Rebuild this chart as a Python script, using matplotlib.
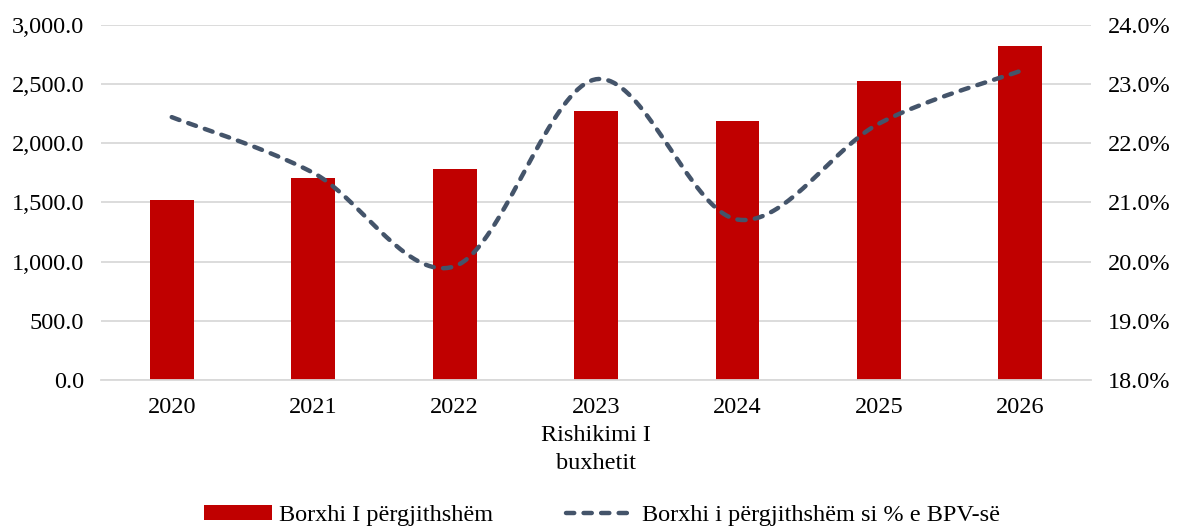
import numpy as np
import matplotlib
matplotlib.use("Agg")
import matplotlib.pyplot as plt
from matplotlib.ticker import FuncFormatter, MultipleLocator

years = ["2020", "2021", "2022", "2023\nRishikimi I\nbuxhetit", "2024", "2025", "2026"]
debt = [1516, 1710, 1778, 2271, 2184, 2527, 2820]
debt_pct = [22.44, 21.50, 19.92, 23.08, 20.71, 22.33, 23.22]
bar_label = "Borxhi I përgjithshëm"
line_label = "Borxhi i përgjithshëm si % e BPV-së"

plt.rcParams['font.family'] = ['Liberation Serif', 'DejaVu Serif']
FS = 17.5

fig = plt.figure(figsize=(11.8, 5.27), dpi=100)
ax = fig.add_axes([0.0856, 0.279, 0.839, 0.674])
ax2 = ax.twinx()

x = np.arange(len(years))
ax.bar(x, debt, width=0.31, color="#C00000", zorder=2, label=bar_label)
ax.set_ylim(0, 3000)
ax.yaxis.set_major_locator(MultipleLocator(500))
ax.yaxis.set_major_formatter(FuncFormatter(lambda v, p: f"{v:,.1f}"))
ax.set_xlim(-0.5, len(years) - 0.5)
ax.set_xticks(x)
ax.set_xticklabels(years, fontsize=FS, linespacing=1.45)
ax.grid(axis='y', color="#D9D9D9", linewidth=1.3, zorder=0)
ax.set_axisbelow(True)
for s in ['top', 'right', 'left']:
    ax.spines[s].set_visible(False)
ax.spines['bottom'].set_color("#D9D9D9")
ax.spines['bottom'].set_linewidth(1.3)
ax.tick_params(axis='both', length=0, labelsize=FS, colors="black")
ax.tick_params(axis='y', pad=12)
ax.tick_params(axis='x', pad=12)

# Smooth (Catmull-Rom) curve through the data points, like Excel's smoothed line
def smooth(xs, ys, n=40):
    xs = np.asarray(xs, float); ys = np.asarray(ys, float)
    P = np.column_stack([xs, ys])
    pts = []
    for i in range(len(P) - 1):
        p0 = P[i - 1] if i > 0 else P[i]
        p1, p2 = P[i], P[i + 1]
        p3 = P[i + 2] if i + 2 < len(P) else P[i + 1]
        c1 = p1 + (p2 - p0) / 6.0
        c2 = p2 - (p3 - p1) / 6.0
        t = np.linspace(0, 1, n)[:, None]
        seg = ((1 - t) ** 3) * p1 + 3 * ((1 - t) ** 2) * t * c1 + 3 * (1 - t) * t ** 2 * c2 + t ** 3 * p2
        pts.append(seg if i == 0 else seg[1:])
    pts = np.vstack(pts)
    return pts[:, 0], pts[:, 1]

sx, sy = smooth(x, debt_pct)
ax2.plot(sx, sy, color="#44546A", linewidth=3.2, linestyle=(0, (1.85, 2.1)),
         dash_capstyle='round', label=line_label, zorder=3)
ax2.set_ylim(18, 24)
ax2.yaxis.set_major_locator(MultipleLocator(1))
ax2.yaxis.set_major_formatter(FuncFormatter(lambda v, p: f"{v:.1f}%"))
for s in ['top', 'right', 'left', 'bottom']:
    ax2.spines[s].set_visible(False)
ax2.tick_params(axis='y', length=0, labelsize=FS, pad=12)

h1, l1 = ax.get_legend_handles_labels()
h2, l2 = ax2.get_legend_handles_labels()
fig.legend(h1 + h2, l1 + l2, loc='center', bbox_to_anchor=(0.510, 0.022), ncol=2,
           frameon=False, fontsize=FS, handlelength=2.8, handleheight=0.55,
           handletextpad=0.3, columnspacing=3.0)

fig.savefig("out.png", dpi=100)
